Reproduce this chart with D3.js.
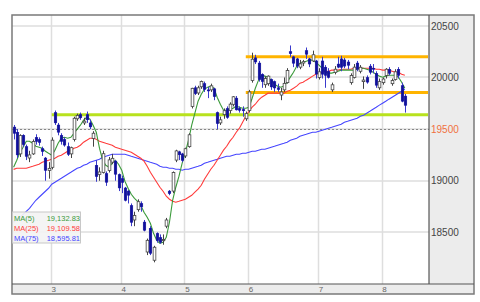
<!DOCTYPE html>
<html>
<head>
<meta charset="utf-8">
<script src="https://cdn.jsdelivr.net/npm/d3@7"></script>
<style>
  body { margin: 0; background: #fff; }
  svg { display: block; }
  text { font-family: "Liberation Sans", Arial, sans-serif; }
</style>
</head>
<body>
<div id="chart"></div>
<script>
// trading days, Feb 13 - Aug 10
const days = [
  '2/13','2/14','2/15','2/16','2/17','2/20','2/21','2/22','2/23','2/24','2/27','2/28',
  '3/1','3/2','3/3','3/6','3/7','3/8','3/9','3/10','3/13','3/14','3/15','3/16','3/17','3/21','3/22','3/23','3/24','3/27','3/28','3/29','3/30','3/31',
  '4/3','4/4','4/5','4/6','4/7','4/10','4/11','4/12','4/13','4/14','4/17','4/18','4/19','4/20','4/21','4/24','4/25','4/26','4/27','4/28',
  '5/1','5/2','5/8','5/9','5/10','5/11','5/12','5/15','5/16','5/17','5/18','5/19','5/22','5/23','5/24','5/25','5/26','5/29','5/30','5/31',
  '6/1','6/2','6/5','6/6','6/7','6/8','6/9','6/12','6/13','6/14','6/15','6/16','6/19','6/20','6/21','6/22','6/23','6/26','6/27','6/28','6/29','6/30',
  '7/3','7/4','7/5','7/6','7/7','7/10','7/11','7/12','7/13','7/14','7/18','7/19','7/20','7/21','7/24','7/25','7/26','7/27','7/28','7/31',
  '8/1','8/2','8/3','8/4','8/7','8/8','8/9','8/10'
];

const open = [
  19520,19470,19260,19440,19330,19220,19260,19420,19400,19310,19220,19100,
  19130,19660,19540,19440,19400,19330,19260,19400,19600,19640,19560,19640,19560,19410,19150,19060,19080,19070,19100,19180,19190,19060,
  19020,18930,18900,18760,18620,18720,18780,18600,18310,18540,18230,18490,18450,18420,18560,18900,18900,19200,19280,19260,
  19240,19330,19720,19900,19850,19910,19940,19880,19880,19890,19660,19560,19640,19700,19680,19740,19800,19700,19690,19600,
  19680,19970,20190,20140,20030,19930,19940,19980,19960,19900,19830,19880,19950,20250,20200,20180,20100,20140,20260,20180,20160,20160,
  20000,20160,20100,20060,19880,20050,20130,20180,20170,20150,19950,20000,20140,20060,19960,20000,20110,20090,20040,19900,
  19950,20020,20080,19940,19980,20080,19920,19820
];
const high = [
  19540,19500,19450,19450,19350,19290,19400,19450,19420,19330,19230,19180,
  19420,19680,19560,19460,19420,19370,19330,19620,19650,19660,19610,19670,19590,19480,19200,19130,19290,19090,19230,19260,19200,19070,
  19050,18940,18910,18780,18700,18820,18800,18620,18440,18560,18370,18500,18480,18480,18640,18910,19090,19300,19290,19270,
  19320,19460,19900,19920,19920,19970,19960,19910,19940,19900,19670,19620,19700,19720,19760,19820,19820,19720,19720,19670,
  19880,20240,20220,20160,20040,20010,20020,19990,19970,19940,19900,20000,20090,20310,20210,20190,20170,20170,20290,20190,20260,20170,
  20090,20200,20120,20090,19950,20110,20200,20210,20190,20170,20040,20130,20160,20120,20010,20020,20130,20130,20060,19990,
  20000,20090,20100,19990,20080,20100,19950,19840
];
const low = [
  19400,19220,19230,19330,19200,19180,19250,19350,19340,19240,19000,19020,
  19110,19540,19440,19350,19330,19240,19220,19380,19580,19590,19540,19560,19500,19330,18990,19000,19070,18950,19080,19160,19000,18900,
  18880,18800,18780,18560,18560,18700,18700,18510,18280,18280,18210,18400,18390,18380,18540,18860,18880,19180,19200,19180,
  19220,19320,19700,19830,19830,19890,19860,19800,19860,19780,19500,19540,19600,19600,19650,19720,19680,19660,19620,19580,
  19660,19950,20130,19960,19900,19900,19920,19880,19860,19860,19780,19860,19940,20200,20100,20090,20080,20110,20180,20100,20150,19990,
  19980,19990,19900,19990,19860,20030,20090,20060,20090,20080,19930,19990,20060,20040,19890,19940,20030,20040,19900,19880,
  19930,19990,20020,19920,19970,19990,19760,19660
];
const close = [
  19459,19250,19437,19350,19235,19250,19380,19380,19370,19283,19100,19120,
  19393,19560,19470,19380,19345,19255,19320,19605,19633,19609,19577,19590,19521,19460,19040,19085,19262,18985,19202,19217,19063,18930,
  18983,18810,18860,18597,18664,18797,18747,18520,18423,18297,18356,18420,18404,18430,18620,18875,19079,19289,19251,19196,
  19310,19445,19895,19843,19900,19961,19883,19869,19919,19814,19553,19590,19678,19613,19742,19813,19686,19682,19677,19650,
  19860,20177,20150,19979,19960,19990,20013,19908,19898,19883,19860,19943,20067,20230,20138,20110,20132,20153,20225,20130,20220,20033,
  20055,20032,20020,20000,19929,20080,20100,20098,20110,20118,20020,20100,20080,20099,19975,19955,20050,20079,19925,19960,
  19985,20080,20040,19970,20055,20020,19770,19730
];

// moving averages, one value per trading day
const ma5 = [
  19131,19199,19276,19325,19383,19383,19363,19334,19325,19315,19286,19266,
  19247,19296,19363,19412,19421,19412,19421,19460,19499,19538,19586,19615,19596,19538,19470,19315,19199,19150,19131,19170,19199,19160,
  19102,18995,18927,18869,18830,18801,18763,18695,18646,18588,18491,18423,18394,18404,18452,18598,18811,18937,19044,19170,
  19276,19392,19538,19654,19770,19838,19887,19906,19916,19896,19809,19741,19683,19683,19693,19702,19722,19712,19702,19702,
  19712,19799,19896,19974,20022,20013,20003,19974,19935,19916,19906,19916,19954,20003,20051,20109,20139,20148,20158,20168,20168,20148,
  20119,20090,20051,20042,20042,20051,20061,20071,20071,20071,20071,20071,20080,20090,20090,20080,20071,20051,20032,20013,
  20003,20013,20022,20022,20022,20003,19954,19896
];
const ma25 = [
  19110,19121,19121,19121,19121,19131,19140,19150,19160,19179,19189,19199,
  19208,19218,19237,19247,19266,19286,19296,19315,19325,19344,19373,19392,19412,19412,19402,19383,19373,19363,19354,19344,19325,19315,
  19305,19296,19286,19276,19257,19237,19218,19189,19140,19082,19034,18985,18937,18898,18850,18821,18801,18792,18801,18811,
  18821,18840,18859,18889,18918,18956,19015,19063,19111,19150,19199,19247,19296,19334,19383,19421,19470,19509,19567,19625,
  19673,19712,19741,19780,19809,19828,19848,19848,19848,19848,19848,19848,19867,19877,19896,19916,19945,19954,19974,19993,20013,20032,
  20042,20051,20061,20061,20071,20071,20071,20080,20080,20080,20080,20090,20090,20090,20090,20090,20090,20090,20080,20080,
  20071,20071,20071,20061,20051,20051,20032,20022
];
const ma75 = [
  18596,18627,18646,18675,18704,18733,18772,18811,18840,18869,18898,18927,
  18966,18985,19005,19024,19044,19063,19082,19102,19121,19131,19150,19160,19179,19189,19199,19208,19228,19237,19247,19257,19257,19257,
  19257,19257,19247,19237,19228,19218,19208,19199,19189,19179,19170,19160,19140,19131,19131,19121,19121,19111,19111,19102,
  19111,19111,19121,19131,19140,19150,19170,19179,19189,19199,19208,19218,19228,19237,19237,19247,19257,19257,19266,19266,
  19276,19286,19286,19296,19305,19305,19315,19325,19334,19344,19354,19363,19373,19392,19402,19412,19431,19441,19450,19460,19470,19470,
  19479,19489,19499,19509,19518,19528,19538,19547,19567,19576,19586,19596,19605,19625,19635,19654,19673,19693,19712,19732,
  19751,19770,19790,19809,19828,19848,19867,19887
];

const maNames = ['MA(5)', 'MA(25)', 'MA(75)'];
const maLegendValues = ['19,132.83', '19,109.58', '18,595.81'];
const maColors = ['#3a9a3a', '#ff3b3b', '#4646ff'];

// horizontal level lines: value and first day
const levelValues = [19640, 20200, 19855];
const levelStart = ['3/1', '5/31', '5/31'];
const levelColors = ['#b8e21e', '#ffb400', '#ffb400'];

const yTicks = [18500, 19000, 19500, 20000, 20500];
const lastClose = 19500;

const width = 480, height = 302;
const plot = { left: 12, right: 429, top: 15, bottom: 284 };
const frameRight = 474, frameBottom = 294;
const slots = 131;

const svg = d3.select('#chart').append('svg')
  .attr('width', width)
  .attr('height', height);

const x = d3.scaleLinear()
  .domain([-0.5, slots - 0.4])
  .range([plot.left, plot.right]);

const y = d3.scaleLinear()
  .domain([18000, 20605])
  .range([plot.bottom, plot.top]);

// panels
svg.append('rect')
  .attr('x', plot.left).attr('y', plot.top)
  .attr('width', plot.right - plot.left).attr('height', plot.bottom - plot.top)
  .attr('fill', '#fff');
svg.append('rect')
  .attr('x', plot.right).attr('y', plot.top)
  .attr('width', frameRight - plot.right).attr('height', plot.bottom - plot.top)
  .attr('fill', '#ececec');
svg.append('rect')
  .attr('x', plot.left).attr('y', plot.bottom)
  .attr('width', frameRight - plot.left).attr('height', frameBottom - plot.bottom)
  .attr('fill', '#ececec');

// month starts
const monthStarts = days
  .map((d, i) => ({ i, m: d.split('/')[0] }))
  .filter((d, i, arr) => i > 0 && d.m !== arr[i - 1].m);

const grid = svg.append('g').attr('stroke', '#dedede').attr('stroke-width', 1.5);
grid.selectAll('.hg').data(yTicks).join('line')
  .attr('x1', plot.left).attr('x2', plot.right)
  .attr('y1', d => Math.round(y(d))).attr('y2', d => Math.round(y(d)));
grid.selectAll('.vg').data(monthStarts).join('line')
  .attr('x1', d => Math.round(x(d.i)) - 0.5).attr('x2', d => Math.round(x(d.i)) - 0.5)
  .attr('y1', plot.top).attr('y2', plot.bottom);

// dotted line at current level
svg.append('line')
  .attr('x1', plot.left).attr('x2', plot.right)
  .attr('y1', Math.round(y(lastClose)) + 0.5).attr('y2', Math.round(y(lastClose)) + 0.5)
  .attr('stroke', '#888').attr('stroke-dasharray', '2,2');

// level lines
svg.append('g').selectAll('line')
  .data(levelValues)
  .join('line')
    .attr('x1', (d, i) => x(days.indexOf(levelStart[i])))
    .attr('x2', plot.right - 1)
    .attr('y1', d => y(d)).attr('y2', d => y(d))
    .attr('stroke', (d, i) => levelColors[i])
    .attr('stroke-width', 3);

// moving averages
const line = d3.line().x((d, i) => x(i)).y(d => y(d));
[ma75, ma25, ma5].forEach((s, k) => {
  svg.append('path')
    .datum(s)
    .attr('fill', 'none')
    .attr('stroke', maColors[2 - k])
    .attr('stroke-width', 1.1)
    .attr('d', line);
});

// candles
const bw = 2.7;
const candles = svg.append('g');
days.forEach((d, i) => {
  const up = close[i] >= open[i];
  const cx = Math.round(x(i)) + 0.5;
  candles.append('line')
    .attr('x1', cx).attr('x2', cx)
    .attr('y1', y(high[i])).attr('y2', y(low[i]))
    .attr('stroke', up ? '#444' : '#3a3acc')
    .attr('stroke-width', 1);
  const top = y(Math.max(open[i], close[i]));
  const h = Math.max(1, Math.abs(y(open[i]) - y(close[i])));
  candles.append('rect')
    .attr('x', cx - bw / 2).attr('y', top)
    .attr('width', bw).attr('height', h)
    .attr('fill', up ? '#fff' : '#10109c')
    .attr('stroke', up ? '#444' : '#10109c')
    .attr('stroke-width', up ? 0.8 : 0.4);
});

// frame
svg.append('rect')
  .attr('x', plot.left).attr('y', plot.top)
  .attr('width', frameRight - plot.left).attr('height', frameBottom - plot.top)
  .attr('fill', 'none').attr('stroke', '#7a7a7a').attr('stroke-width', 1.5);
svg.append('line')
  .attr('x1', plot.right).attr('x2', plot.right)
  .attr('y1', plot.top).attr('y2', plot.bottom)
  .attr('stroke', '#555').attr('stroke-width', 1.2);
svg.append('line')
  .attr('x1', plot.left).attr('x2', frameRight)
  .attr('y1', plot.bottom).attr('y2', plot.bottom)
  .attr('stroke', '#555').attr('stroke-width', 1.2);

// right axis
const yAxis = svg.append('g')
  .attr('transform', `translate(${plot.right},0)`)
  .call(d3.axisRight(y).tickValues(yTicks).tickSize(0).tickPadding(2).tickFormat(d3.format('d')));
yAxis.select('.domain').remove();
yAxis.selectAll('text')
  .attr('font-size', '10px')
  .attr('font-family', '"Liberation Sans", Arial, sans-serif')
  .attr('fill', d => d === lastClose ? '#f07040' : '#444');

// bottom axis
const xAxis = svg.append('g')
  .attr('transform', `translate(0,${plot.bottom})`)
  .call(d3.axisBottom(x).tickValues(monthStarts.map(d => d.i)).tickSize(0).tickPadding(2)
    .tickFormat(i => days[i].split('/')[0]));
xAxis.select('.domain').remove();
xAxis.selectAll('text')
  .attr('font-size', '8px')
  .attr('font-family', '"Liberation Sans", Arial, sans-serif')
  .attr('fill', '#666')
  .attr('dx', 1.5);

// legend
const lg = svg.append('g');
lg.append('rect')
  .attr('x', plot.left + 0.5).attr('y', 212)
  .attr('width', 68).attr('height', 31)
  .attr('fill', '#f3f3f3').attr('fill-opacity', 0.92)
  .attr('stroke', '#c8c8c8');
maNames.forEach((n, k) => {
  lg.append('text')
    .attr('x', plot.left + 2).attr('y', 220.5 + k * 10)
    .attr('font-size', '7.5px').attr('fill', maColors[k])
    .text(n);
  lg.append('text')
    .attr('x', plot.left + 68).attr('y', 220.5 + k * 10)
    .attr('text-anchor', 'end')
    .attr('font-size', '7.5px').attr('fill', maColors[k])
    .text(maLegendValues[k]);
});
</script>
</body>
</html>
